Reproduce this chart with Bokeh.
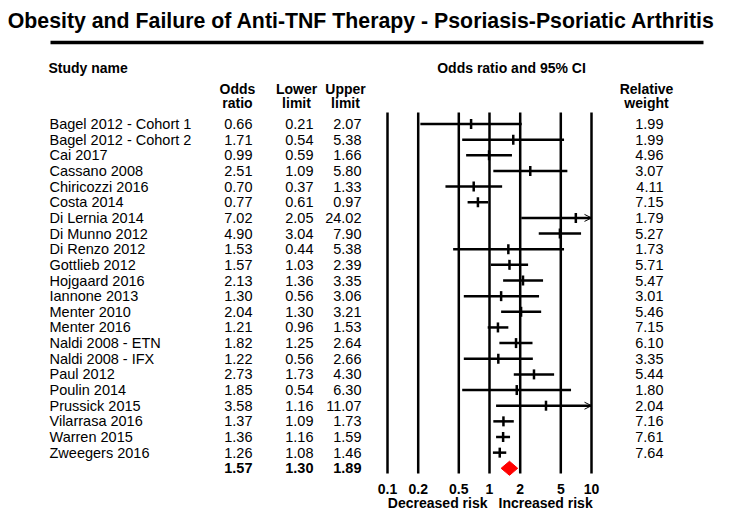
import numpy as np
from bokeh.plotting import figure
from bokeh.models import Range1d, LogScale, ColumnDataSource, Arrow, OpenHead
from bokeh.core.properties import value
from bokeh.embed import file_html
from bokeh.resources import INLINE

# ---------------- data ----------------
studies = ["Bagel 2012 - Cohort 1", "Bagel 2012 - Cohort 2", "Cai 2017", "Cassano 2008",
           "Chiricozzi 2016", "Costa 2014", "Di Lernia 2014", "Di Munno 2012", "Di Renzo 2012",
           "Gottlieb 2012", "Hojgaard 2016", "Iannone 2013", "Menter 2010", "Menter 2016",
           "Naldi 2008 - ETN", "Naldi 2008 - IFX", "Paul 2012", "Poulin 2014", "Prussick 2015",
           "Vilarrasa 2016", "Warren 2015", "Zweegers 2016"]
odds = [0.66, 1.71, 0.99, 2.51, 0.70, 0.77, 7.02, 4.90, 1.53, 1.57, 2.13, 1.30, 2.04, 1.21,
        1.82, 1.22, 2.73, 1.85, 3.58, 1.37, 1.36, 1.26]
lower = [0.21, 0.54, 0.59, 1.09, 0.37, 0.61, 2.05, 3.04, 0.44, 1.03, 1.36, 0.56, 1.30, 0.96,
         1.25, 0.56, 1.73, 0.54, 1.16, 1.09, 1.16, 1.08]
upper = [2.07, 5.38, 1.66, 5.80, 1.33, 0.97, 24.02, 7.90, 5.38, 2.39, 3.35, 3.06, 3.21, 1.53,
         2.64, 2.66, 4.30, 6.30, 11.07, 1.73, 1.59, 1.46]
weights = [1.99, 1.99, 4.96, 3.07, 4.11, 7.15, 1.79, 5.27, 1.73, 5.71, 5.47, 3.01, 5.46, 7.15,
           6.10, 3.35, 5.44, 1.80, 2.04, 7.16, 7.61, 7.64]
summary_or, summary_lo, summary_hi = 1.57, 1.30, 1.89
ticks = [0.1, 0.2, 0.5, 1, 2, 5, 10]
tick_labels = ["0.1", "0.2", "0.5", "1", "2", "5", "10"]
title = "Obesity and Failure of Anti-TNF Therapy -  Psoriasis-Psoriatic Arthritis"

# ---------------- layout ----------------
W, H = 724, 510
FONT = value("Liberation Sans")
xmin, xmax = ticks[0], ticks[-1]
px_dec = 102.0
x_01 = 387.0
x_10 = x_01 + px_dec * np.log10(xmax / xmin)
log_start = 10 ** (np.log10(xmin) - x_01 / px_dec)
log_end = 10 ** (np.log10(xmax) + (W - x_10) / px_dec)
row0, drow = 123.5, 15.65

p = figure(width=W, height=H, x_range=Range1d(0, W), y_range=Range1d(H, 0),
           output_backend="svg", toolbar_location=None, min_border=0)
p.axis.visible = False
p.grid.visible = False
p.outline_line_color = None
p.extra_x_ranges = {"or": Range1d(log_start, log_end)}
p.extra_x_scales = {"or": LogScale()}
p.extra_y_ranges = {"rows": Range1d(start=(H - row0) / drow, end=(0 - row0) / drow)}

n = len(studies)
rows = list(range(n))


def txt(x, y, t, size="14.5px", bold=False, align="left", **kw):
    p.text(x=x, y=y, text=t, text_font=FONT, text_font_size=value(size),
           text_font_style="bold" if bold else "normal", text_align=align,
           text_baseline="middle", text_color="black", **kw)


# title and rule
txt([364], [20], [title], size="21.3px", bold=True, align="center")
p.segment(x0=[50], x1=[703], y0=[42], y1=[42], line_width=3.5, line_color="black")

# headers
txt([48], [67], ["Study name"], size="14px", bold=True)
txt([511], [67], ["Odds ratio and 95% CI"], size="14px", bold=True, align="center")
txt([237, 296, 345, 646], [88] * 4, ["Odds", "Lower", "Upper", "Relative"], size="14px",
    bold=True, align="center")
txt([237, 296, 345, 646], [102] * 4, ["ratio", "limit", "limit", "weight"], size="14px",
    bold=True, align="center")

# table rows
txt([49] * n, rows, studies, y_range_name="rows")
txt([252] * n, rows, [f"{v:.2f}" for v in odds], align="right", y_range_name="rows")
txt([313] * n, rows, [f"{v:.2f}" for v in lower], align="right", y_range_name="rows")
txt([361] * n, rows, [f"{v:.2f}" for v in upper], align="right", y_range_name="rows")
txt([663] * n, rows, [f"{v:.2f}" for v in weights], align="right", y_range_name="rows")
txt([252, 313, 361], [n] * 3, [f"{summary_or:.2f}", f"{summary_lo:.2f}", f"{summary_hi:.2f}"],
    bold=True, align="right", y_range_name="rows")

# forest plot
p.segment(x0=ticks, x1=ticks, y0=[112] * len(ticks), y1=[473] * len(ticks),
          x_range_name="or", line_width=2.5, line_color="black")
upper_clip = list(np.minimum(upper, xmax))
p.segment(x0=lower, x1=upper_clip, y0=rows, y1=rows, x_range_name="or", y_range_name="rows",
          line_width=2.5, line_color="black")
p.scatter(x=odds, y=rows, marker="dash", angle=np.pi / 2, size=10, line_width=2.5,
          line_color="black", x_range_name="or", y_range_name="rows")

over = [i for i in rows if upper[i] > xmax]
arr_src = ColumnDataSource(dict(x0=[xmax / 1.15] * len(over), x1=[xmax] * len(over),
                                y=[rows[i] for i in over]))
p.add_layout(Arrow(end=OpenHead(size=7, line_width=1, line_color="black"), line_width=0,
                   line_alpha=0, x_start="x0", x_end="x1", y_start="y", y_end="y",
                   source=arr_src, x_range_name="or", y_range_name="rows"))

p.patch(x=[summary_lo, summary_or, summary_hi, summary_or],
        y=[n, n - 0.45, n, n + 0.45], fill_color="#ff0000", line_color="#ff0000",
        x_range_name="or", y_range_name="rows")

# axis labels
txt(ticks, [488] * len(ticks), tick_labels, size="14px", bold=True, align="center",
    x_range_name="or")
txt([487], [502], ["Decreased risk"], size="14px", bold=True, align="right")
txt([498], [502], ["Increased risk"], size="14px", bold=True, align="left")

open("out.html", "w").write(file_html(p, INLINE))
